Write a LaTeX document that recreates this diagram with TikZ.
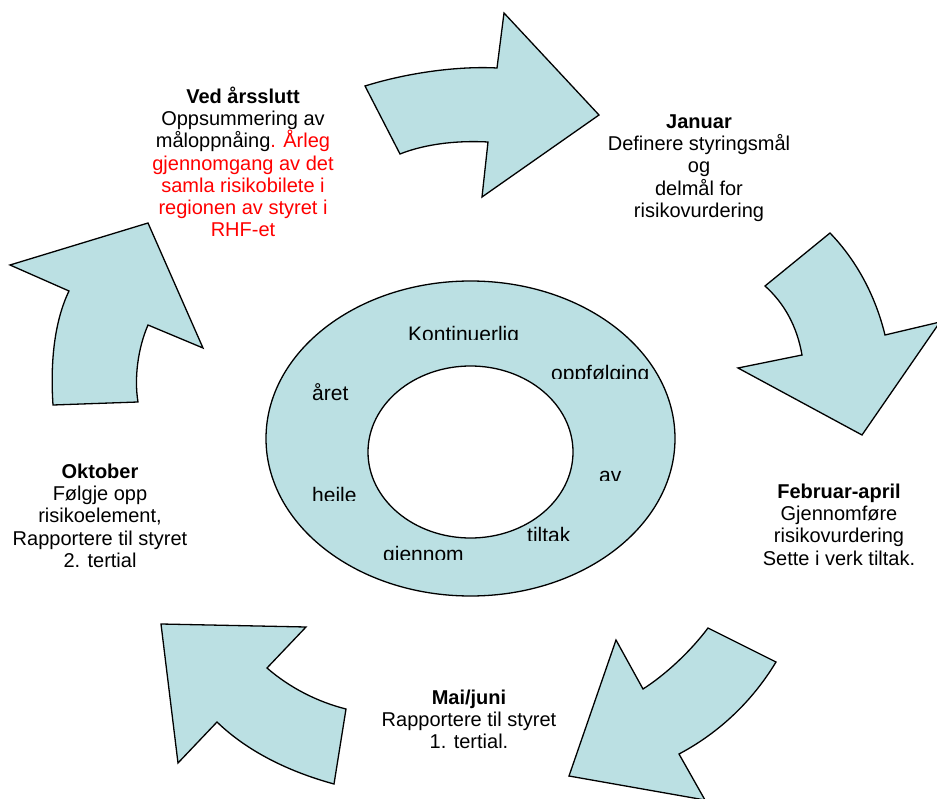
\documentclass[tikz,border=0pt]{standalone}
\usepackage{fontspec}
\setmainfont{Liberation Sans}
\usetikzlibrary{shapes.geometric}
\definecolor{cyc}{RGB}{187,224,227}
\definecolor{redtxt}{RGB}{255,0,0}
\newcommand\firstline{\rule{0pt}{19pt}}
\newcommand\clipword[4]{%
  \begin{scope}
    \clip (#2-3,#3-30) rectangle (#2+130,#3);
    \node[ringword] (#1) at (#2,#3+2) {#4};
  \end{scope}}
\begin{document}
\begin{tikzpicture}[x=1pt,y=-1pt,
  shapeline/.style={draw=black,line width=1.3pt,fill=cyc,line join=miter},
  ringshape/.style={ellipse,draw=black,line width=1.3pt,inner sep=0pt},
  lbl/.style={align=center,inner sep=0pt,anchor=north,font=\fontsize{20}{22.3}\selectfont},
  ringword/.style={inner sep=0pt,anchor=base west,font=\fontsize{21}{24}\selectfont}]
\useasboundingbox (0,0) rectangle (937,799);
\clip (0,0) rectangle (937,799);

% top arrow
\draw[shapeline] (365,86) .. controls (410,72) and (460,66) .. (497,68)
  -- (504,13) -- (599,115) -- (482,197) -- (488,142)
  .. controls (450,140) and (420,146) .. (400,154) -- cycle;
% right arrow
\draw[shapeline] (765,286) -- (830,233) .. controls (858,262) and (876,298) .. (885,335)
  -- (940,322) -- (862,435) -- (738,368) -- (802,355)
  .. controls (797,326) and (784,303) .. cycle;
% bottom-right arrow
\draw[shapeline] (708,628) -- (776,662) .. controls (750,705) and (715,735) .. (679,754)
  -- (705,800) -- (569,776) -- (616,640) -- (643,689)
  .. controls (665,675) and (690,652) .. cycle;
% bottom-left arrow
\draw[shapeline] (161,624) -- (306,627) -- (267,668)
  .. controls (290,688) and (318,702) .. (346,709)
  -- (334,784) .. controls (290,772) and (248,752) .. (217,722)
  -- (178,763) -- cycle;
% left arrow
\draw[shapeline] (10,265) -- (148,223) -- (203,348) -- (148,325)
  .. controls (138,348) and (134,378) .. (138,402)
  -- (53,405) .. controls (50,360) and (55,320) .. (69,291) -- cycle;

% ring
\node[ringshape,fill=cyc,minimum width=409pt,minimum height=315pt] (outer) at (470.5,438.5) {};
\node[ringshape,fill=white,minimum width=205pt,minimum height=172pt] (inner) at (470.5,452) {};

\clipword{w1}{408}{340}{Kontinuerlig}
\clipword{w2}{551}{379}{oppfølging}
\clipword{w3}{599}{480}{av}
\clipword{w4}{527}{540}{tiltak}
\clipword{w5}{383}{559}{gjennom}
\clipword{w6}{312}{500}{heile}
\node[ringword] (w7) at (312,400) {året};

% labels
\node[lbl] (ved) at (243,84) {\firstline\textbf{Ved årsslutt}\\Oppsummering av\\måloppnåing{\color{redtxt}. Årleg}\\
  {\color{redtxt}gjennomgang av det}\\{\color{redtxt}samla risikobilete i}\\{\color{redtxt}regionen av styret i}\\{\color{redtxt}RHF-et}};
\node[lbl] (jan) at (699,109) {\firstline\textbf{Januar}\\Definere styringsmål\\og\\delmål for\\risikovurdering};
\node[lbl] (feb) at (839,479) {\firstline\textbf{Februar-april}\\Gjennomføre\\risikovurdering\\Sette i verk tiltak.};
\node[lbl] (mai) at (469,685) {\firstline\textbf{Mai/juni}\\Rapportere til styret\\1. tertial.};
\node[lbl] (okt) at (100,459) {\firstline\textbf{Oktober}\\Følgje opp\\risikoelement,\\Rapportere til styret\\2. tertial};
\end{tikzpicture}
\end{document}
